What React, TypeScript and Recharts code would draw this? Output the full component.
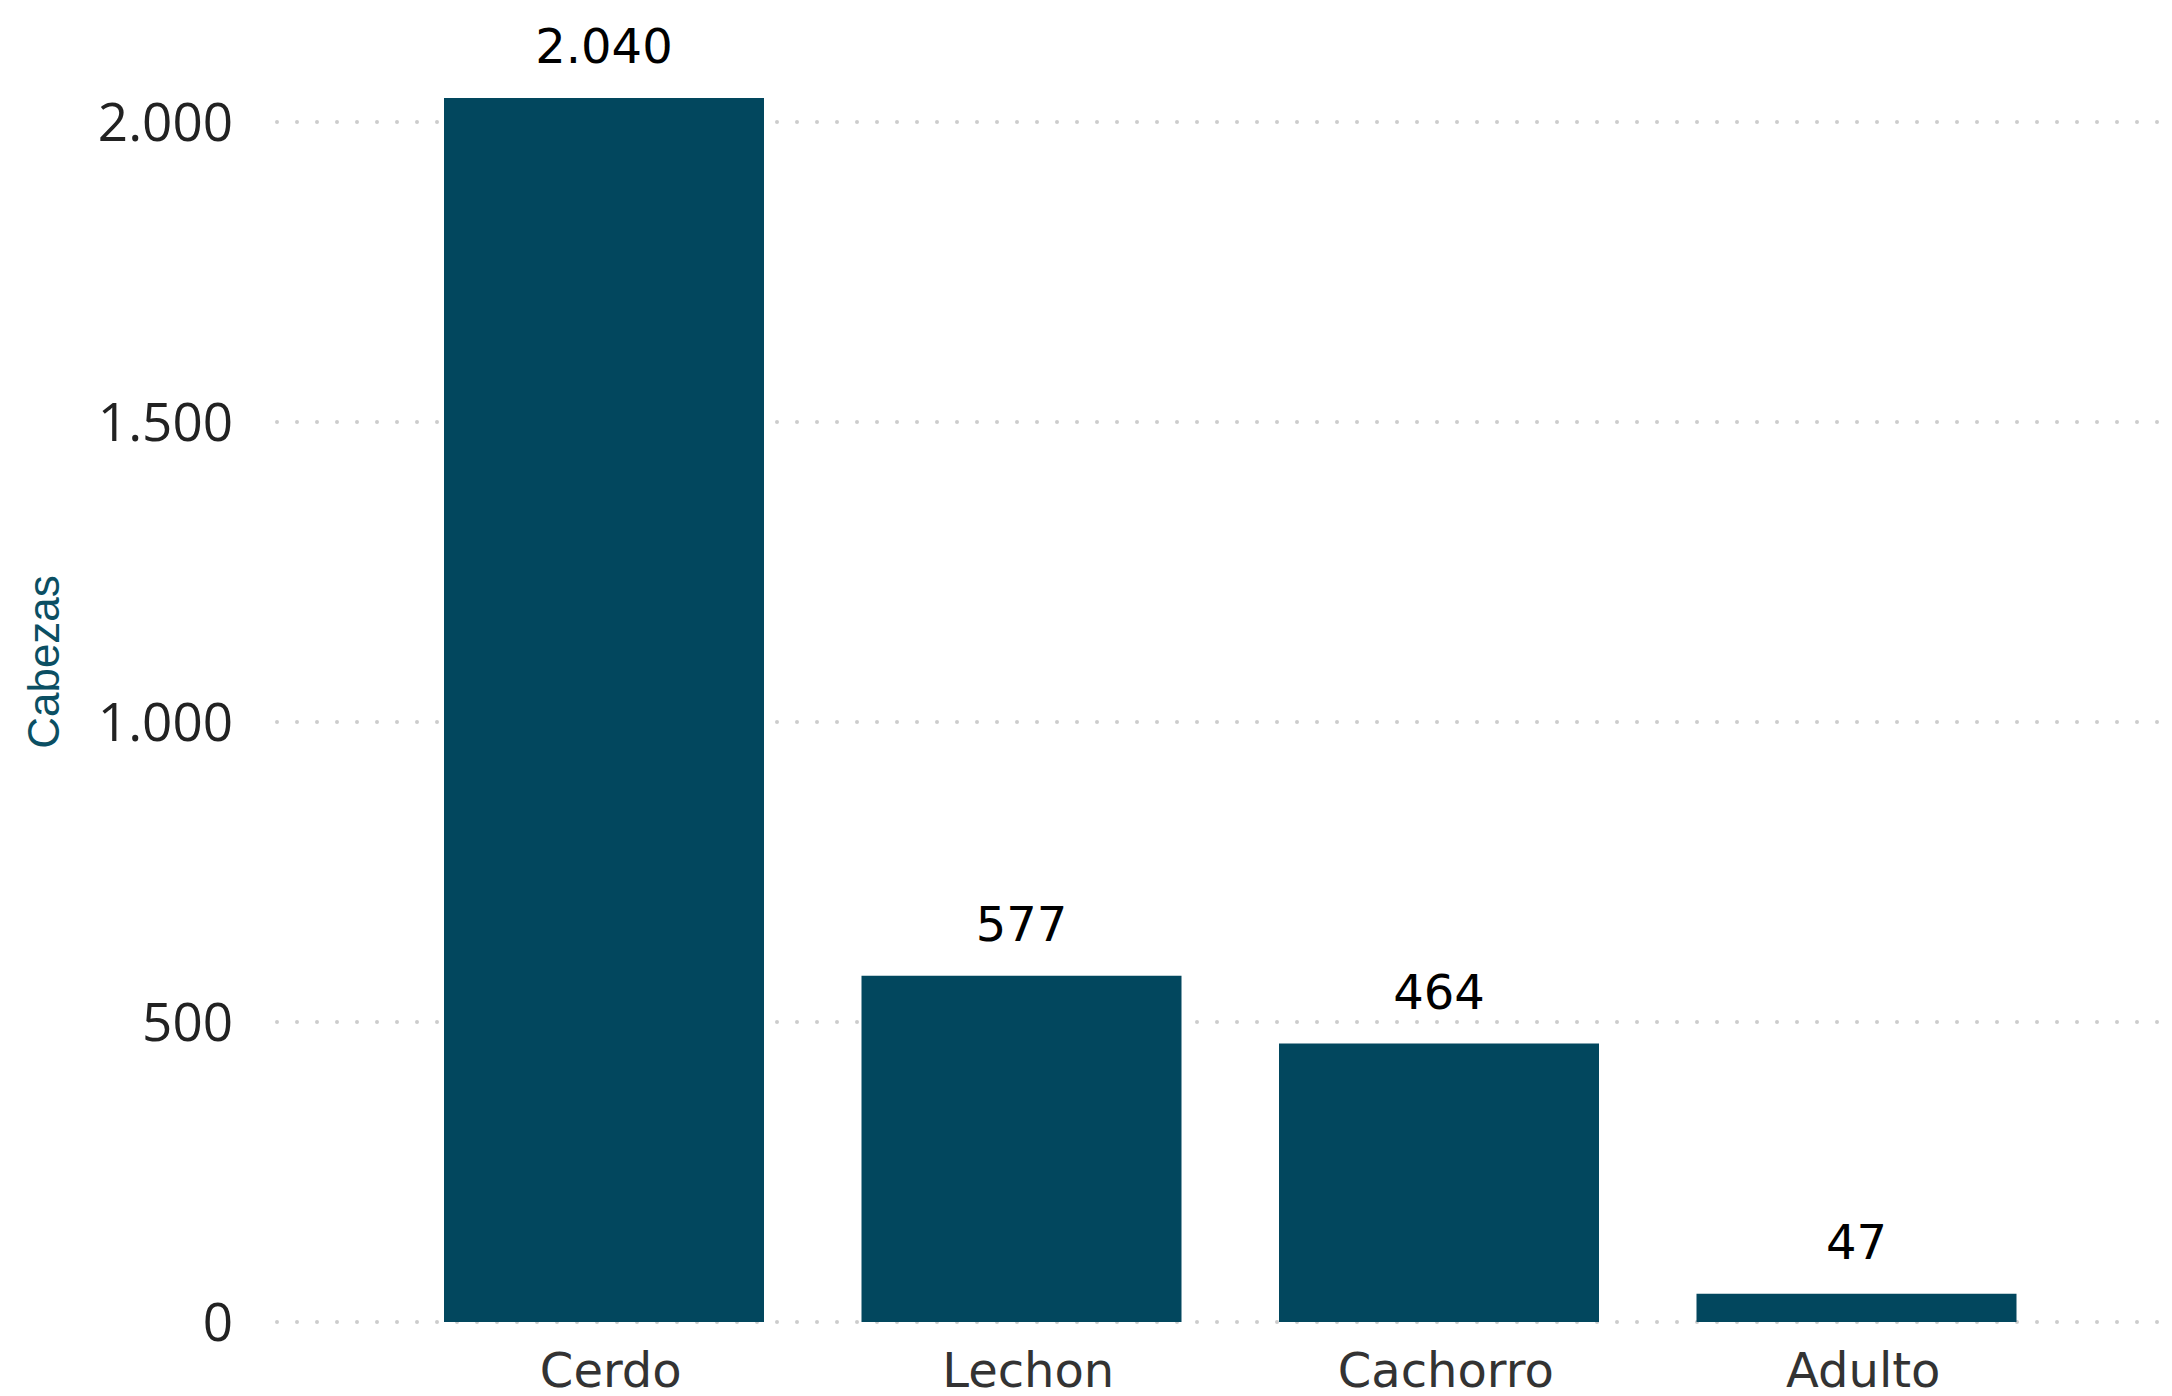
import { BarChart, Bar, XAxis, YAxis, CartesianGrid, LabelList, Label } from "recharts"

const categorias = ["Cerdo", "Lechon", "Cachorro", "Adulto"]
const cabezas = [2040, 577, 464, 47]
const ticksY = [0, 500, 1000, 1500, 2000]

const data = categorias.map((nombre, i) => ({ nombre, cabezas: cabezas[i] }))

const miles = (v: number) => String(v).replace(/\B(?=(\d{3})+(?!\d))/g, ".")

const EjeLabel = (props: any) => {
  const { viewBox } = props
  const x = viewBox.x + 43
  const y = viewBox.y + viewBox.height / 2
  return (
    <text
      x={x}
      y={y}
      transform={`rotate(-90, ${x}, ${y})`}
      textAnchor="middle"
      dominantBaseline="central"
      fill="#0b4f63"
      fontFamily="Liberation Sans, Arial, sans-serif"
      fontSize={44}
    >
      Cabezas
    </text>
  )
}

export default function App() {
  return (
    <div style={{ position: "absolute", left: 0, top: 0, background: "#fff" }}>
      <BarChart
        width={2172}
        height={1396}
        data={data}
        margin={{ top: 2, right: 12, bottom: 0, left: 0 }}
      >
        <CartesianGrid
          vertical={false}
          horizontalValues={ticksY}
          stroke="#cccccc"
          strokeWidth={4}
          strokeDasharray="0 20"
          strokeLinecap="round"
        />
        <XAxis
          dataKey="nombre"
          height={74}
          axisLine={false}
          tickLine={false}
          tickSize={0}
          tickMargin={31}
          padding={{ left: 118, right: 95 }}
          tick={{ fill: "#333333", fontSize: 48, dx: 7, fontFamily: "DejaVu Sans, sans-serif" }}
        />
        <YAxis
          width={277}
          domain={[0, 2200]}
          ticks={ticksY}
          axisLine={false}
          tickLine={false}
          tickSize={0}
          tickMargin={44}
          tickFormatter={miles}
          tick={{ fill: "#222222", fontSize: 53, fontFamily: "Open Sans, sans-serif" }}
        >
          <Label content={<EjeLabel />} />
        </YAxis>
        <Bar dataKey="cabezas" fill="#02475e" barSize={320} isAnimationActive={false}>
          <LabelList
            dataKey="cabezas"
            position="top"
            offset={35}
            formatter={(v: any) => miles(Number(v))}
            fill="#000000"
            fontSize={48}
            fontFamily="DejaVu Sans, sans-serif"
          />
        </Bar>
      </BarChart>
    </div>
  )
}
